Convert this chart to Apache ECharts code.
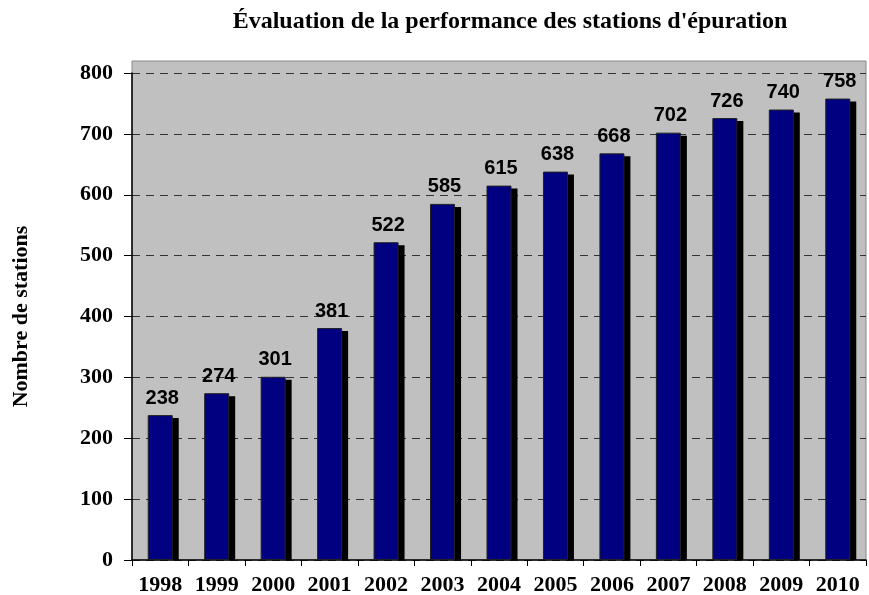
<!DOCTYPE html>
<html>
<head>
<meta charset="utf-8">
<script src="https://cdn.jsdelivr.net/npm/echarts@6/dist/echarts.min.js"></script>
<style>
  html, body { margin: 0; padding: 0; background: #fff; }
  #chart { width: 869px; height: 595px; }
</style>
</head>
<body>
<div id="chart"></div>
<script>
// data
var years = ['1998', '1999', '2000', '2001', '2002', '2003', '2004',
             '2005', '2006', '2007', '2008', '2009', '2010'];
var stations = [238, 274, 301, 381, 522, 585, 615, 638, 668, 702, 726, 740, 758];
var yTicks = { min: 0, max: 800, interval: 100 };

var chart = echarts.init(document.getElementById('chart'));

var serif = '"Liberation Serif", "Times New Roman", serif';
var sans = '"Liberation Sans", Arial, sans-serif';

var option = {
  backgroundColor: '#fff',
  title: {
    text: "Évaluation de la performance des stations d'épuration",
    left: 505,
    top: 5,
    textAlign: 'center',
    textStyle: { fontFamily: serif, fontWeight: 'bold', fontSize: 24, color: '#000' }
  },
  grid: [
    // gray plot background, a bit taller than the value range
    { left: 132, right: 3, top: 61, bottom: 35, show: true, outerBoundsMode: 'none',
      backgroundColor: '#c0c0c0', borderColor: '#888', borderWidth: 1 },
    // real value grid
    { left: 132, right: 3, top: 73, bottom: 35, outerBoundsMode: 'none', containLabel: false }
  ],
  xAxis: [
    { gridIndex: 0, type: 'category', data: years, show: false },
    {
      gridIndex: 1,
      type: 'category',
      data: years,
      axisLine: { lineStyle: { color: '#000', width: 1.5 } },
      axisTick: { show: true, alignWithLabel: false, length: 6, lineStyle: { color: '#000' } },
      axisLabel: { interval: 0, margin: 14, fontFamily: serif, fontWeight: 'bold', fontSize: 22, color: '#000' }
    }
  ],
  yAxis: [
    { gridIndex: 0, type: 'value', show: false, min: 0, max: 100 },
    {
      gridIndex: 1,
      type: 'value',
      min: yTicks.min,
      max: yTicks.max,
      interval: yTicks.interval,
      name: 'Nombre de stations',
      nameLocation: 'middle',
      nameRotate: 90,
      nameGap: 100,
      nameTextStyle: { fontFamily: serif, fontWeight: 'bold', fontSize: 22, color: '#000' },
      axisLine: { show: true, lineStyle: { color: '#000', width: 1.5 } },
      axisTick: { show: true, length: 8, lineStyle: { color: '#000' } },
      axisLabel: { margin: 19, fontFamily: serif, fontWeight: 'bold', fontSize: 22, color: '#000' },
      splitLine: { show: true, lineStyle: { color: '#333', type: [8, 6], width: 1 } }
    }
  ],
  series: [
    {
      // black drop shadow behind each bar
      type: 'custom',
      xAxisIndex: 1,
      yAxisIndex: 1,
      data: stations,
      silent: true,
      z: 1,
      renderItem: function (params, api) {
        var top = api.coord([api.value(0), api.value(1)]);
        var base = api.coord([api.value(0), 0]);
        var w = 25;
        return {
          type: 'rect',
          shape: { x: top[0] - w / 2 + 6, y: top[1] + 3, width: w, height: base[1] - top[1] - 3 },
          style: { fill: '#000' }
        };
      },
      encode: { x: 0, y: 1 }
    },
    {
      type: 'bar',
      xAxisIndex: 1,
      yAxisIndex: 1,
      data: stations,
      barWidth: 25,
      z: 2,
      itemStyle: { color: '#000080', borderColor: '#222', borderWidth: 1 },
      label: {
        show: true,
        position: 'top',
        distance: 7,
        offset: [2, 0],
        fontFamily: sans,
        fontWeight: 'bold',
        fontSize: 20,
        color: '#000'
      }
    }
  ]
};

chart.setOption(option);
</script>
</body>
</html>
